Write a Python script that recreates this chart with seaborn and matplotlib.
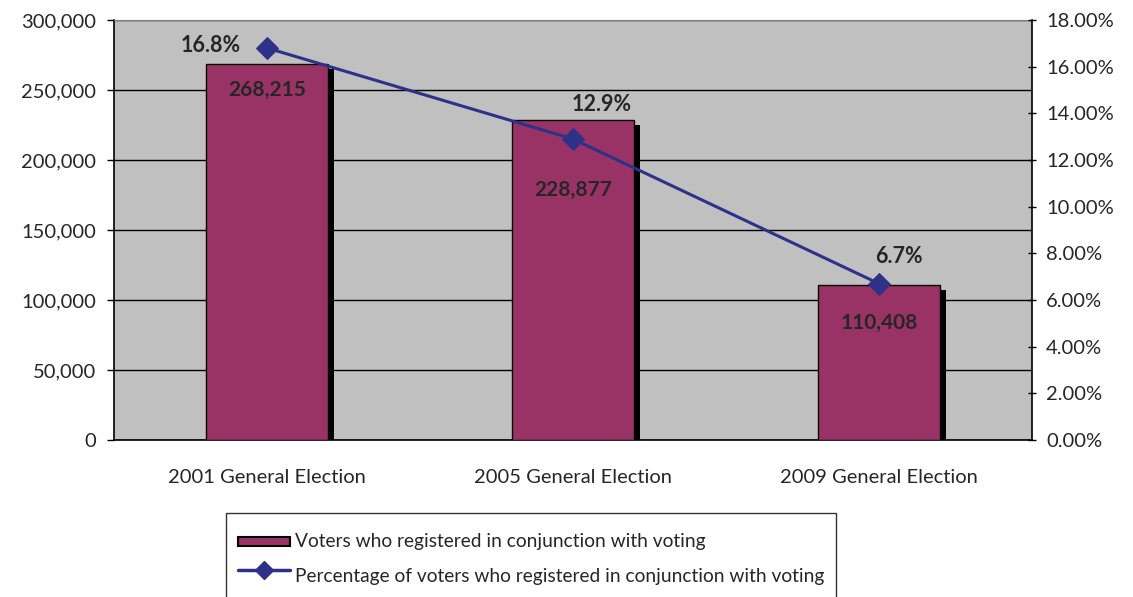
import numpy as np
import pandas as pd
import matplotlib
matplotlib.use('Agg')
import matplotlib.pyplot as plt
import matplotlib.patheffects as pe
from matplotlib.ticker import FuncFormatter, MultipleLocator
from matplotlib.patches import Patch, Rectangle
from matplotlib.lines import Line2D
from matplotlib.legend_handler import HandlerPatch
import seaborn as sns

elections = ['2001 General Election', '2005 General Election', '2009 General Election']
voters = [268215, 228877, 110408]
pct = [16.8, 12.9, 6.7]

bar_col = '#993366'
line_col = '#2E3188'

sns.set_style('white')
plt.rcParams['font.family'] = ['Lato', 'DejaVu Sans']

df = pd.DataFrame({'election': elections, 'voters': voters, 'pct': pct})

fig = plt.figure(figsize=(11.33, 5.97), dpi=100)
ax = fig.add_axes([114/1133, 1 - 440/597, 918/1133, 420/597])
ax.set_facecolor('#C0C0C0')

sns.barplot(data=df, x='election', y='voters', color=bar_col, width=0.4,
            edgecolor='black', linewidth=1, saturation=1, ax=ax, zorder=3)
for p in ax.patches:
    p.set_path_effects([pe.SimplePatchShadow(offset=(4.3, -3.6), shadow_rgbFace='black', alpha=1),
                        pe.Normal()])

ax.set_ylim(0, 300000)
ax.set_xlim(-0.5, 2.5)
ax.yaxis.set_major_locator(MultipleLocator(50000))
ax.yaxis.set_major_formatter(FuncFormatter(lambda v, _: f'{int(v):,}'))
ax.grid(axis='y', color='black', linewidth=1, zorder=0)
ax.set_axisbelow(True)
ax.set_xlabel('')
ax.set_ylabel('')
ax.set_xticks([-0.5, 0.5, 1.5, 2.5], minor=True)
ax.tick_params(axis='x', which='major', length=0, pad=21, labelsize=14.5)
ax.tick_params(axis='x', which='minor', length=5, width=1, direction='out', color='black')
ax.tick_params(axis='y', length=5, width=1, direction='out', color='black', labelsize=14.5,
               pad=8, left=True)
for s in ['left', 'bottom', 'right']:
    ax.spines[s].set_color('black')
    ax.spines[s].set_linewidth(1.2)
ax.spines['top'].set_color('#808080')

bar_off = [18, 51, 27]
for i, v in enumerate(voters):
    ax.annotate(f'{v:,}', (i, v), xytext=(0, -bar_off[i]), textcoords='offset points',
                ha='center', va='center', fontsize=15, fontweight='bold', zorder=5)

ax2 = ax.twinx()
sns.lineplot(x=np.arange(len(pct)), y=pct, color=line_col, marker='D', markersize=11,
             markeredgecolor=line_col, linewidth=2.2, ax=ax2, zorder=4)
ax2.set_ylim(0, 18)
ax2.yaxis.set_major_locator(MultipleLocator(2))
ax2.yaxis.set_major_formatter(FuncFormatter(lambda v, _: f'{v:.2f}%'))
ax2.tick_params(axis='y', length=6, width=1, direction='inout', color='black', labelsize=14.5,
                pad=7, right=True)
for s in ['left', 'bottom', 'top', 'right']:
    ax2.spines[s].set_visible(False)

pct_off = [(-19, 1.5, 'right'), (21, 25, 'center'), (14, 19.5, 'center')]
for i, v in enumerate(pct):
    dx, dy, ha = pct_off[i]
    ax2.annotate(f'{v}%', (i, v), xytext=(dx, dy), textcoords='offset points',
                 ha=ha, va='center', fontsize=15.5, fontweight='bold')


# keep the bar swatch short even though the legend rows are tall
def short_patch(legend, orig_handle, xdescent, ydescent, width, height, fontsize):
    return Rectangle((-xdescent, -ydescent + height * 0.35), width, height * 0.3)


handles = [Patch(facecolor=bar_col, edgecolor='black', linewidth=1.5),
           Line2D([0], [0], color=line_col, marker='D', markersize=9, linewidth=2.5)]
labels = ['Voters who registered in conjunction with voting',
          'Percentage of voters who registered in conjunction with voting']
leg = fig.legend(handles, labels, loc='upper center', bbox_to_anchor=(531/1133, 1 - 513/597),
                 fontsize=13.8, frameon=True, fancybox=False, edgecolor='black',
                 handlelength=2.7, handleheight=2.2, handletextpad=0.25, borderpad=0.65,
                 labelspacing=0.1, borderaxespad=0,
                 handler_map={Patch: HandlerPatch(patch_func=short_patch)})
leg.get_frame().set_linewidth(1)

fig.savefig('out.png', dpi=100)
